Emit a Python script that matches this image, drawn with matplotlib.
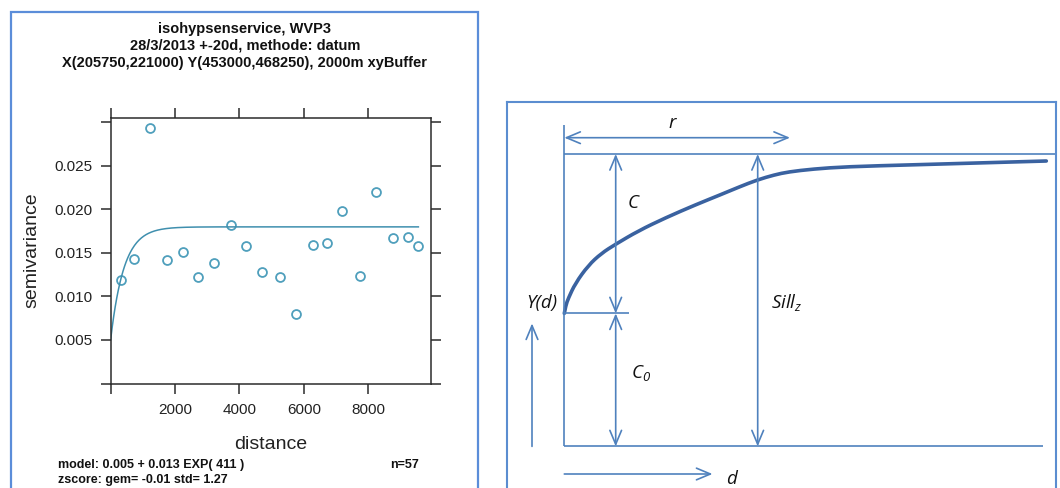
import numpy as np
import matplotlib
matplotlib.use("Agg")
import matplotlib.pyplot as plt
from matplotlib.patches import Rectangle, PathPatch
from matplotlib.path import Path

# ---------------- data: empirical variogram (left panel) ----------------
distance = [314, 727, 1224, 1742, 2239, 2724, 3211, 3730, 4196, 4692,
            5271, 5768, 6286, 6731, 7187, 7736, 8233, 8761, 9236, 9557]
semivariance = [0.01186, 0.01431, 0.0294, 0.01416, 0.01511, 0.01224, 0.01382,
                0.01818, 0.01584, 0.01278, 0.01228, 0.00802, 0.01595, 0.01619,
                0.01987, 0.01236, 0.02205, 0.01669, 0.01681, 0.01577]
# fitted model stated in the chart: 0.005 + 0.013 EXP(411)
model_nugget = 0.005
model_psill = 0.013
model_range = 411

x_ticks = [0, 2000, 4000, 6000, 8000]
x_ticklabels = ["", "2000", "4000", "6000", "8000"]
y_ticks = [0.0, 0.005, 0.010, 0.015, 0.020, 0.025, 0.030]
y_ticklabels = ["", "0.005", "0.010", "0.015", "0.020", "0.025", ""]

title_lines = ["isohypsenservice, WVP3",
               "28/3/2013 +-20d, methode: datum",
               "X(205750,221000) Y(453000,468250), 2000m xyBuffer"]
model_text = "model: 0.005 + 0.013 EXP( 411 )"
zscore_text = "zscore: gem= -0.01 std= 1.27"
n_text = "n=57"

# ---------------- data: schematic variogram (right panel) ----------------
curve_d = [0, 1.5, 4, 11, 24, 37, 51, 74, 101, 131, 157, 175, 193, 210, 224,
           249, 282, 349, 416, 482]
curve_g = [133, 141, 148, 163, 181, 193, 202, 215.5, 228.5, 241.5, 252, 259.5,
           266.5, 271.5, 274.5, 277.4, 279.7, 281.6, 283.5, 285.4]
nugget_level = 133
sill_level = 292.4
range_len = 225.7
c_arrow_d = 51.4
sill_arrow_d = 193.4

W, H = 1060, 488
fig = plt.figure(figsize=(W / 100, H / 100), dpi=100)

# ---------------- left panel ----------------
fig.add_artist(Rectangle((10.5 / W, -0.05), (478 - 10.5) / W, 1 - 12 / H + 0.05,
                         transform=fig.transFigure, fill=False,
                         ec="#5b8dd9", lw=1.6))

ax = fig.add_axes([110.6 / W, 1 - 383.5 / H, (430.7 - 110.6) / W, (383.5 - 117.5) / H])
frame_col = "#2b2b2b"
pt_col = "#4f9fbc"
line_col = "#3f8fae"

ax.plot(distance, semivariance, linestyle="none", marker="o", ms=6.4,
        mfc="none", mec=pt_col, mew=1.3)
d_line = np.linspace(0, max(distance), 400)
g_line = model_nugget + model_psill * (1 - np.exp(-d_line / model_range))
ax.plot(d_line, g_line, color=line_col, lw=1.1)

ax.set_xlim(0, 9940)
ax.set_ylim(0, 0.03057)
ax.set_xticks(x_ticks)
ax.set_xticklabels(x_ticklabels)
ax.set_yticks(y_ticks)
ax.set_yticklabels(y_ticklabels)
for lab in ax.get_xticklabels() + ax.get_yticklabels():
    lab.set_fontfamily("Liberation Sans")
    lab.set_fontsize(11)
    lab.set_color("#222222")
ax.tick_params(axis="both", direction="out", length=7, width=1.1, color=frame_col,
               top=True, right=True, labeltop=False, labelright=False)
ax.tick_params(axis="x", pad=7)
ax.tick_params(axis="y", pad=6)
for s in ax.spines.values():
    s.set_color(frame_col)
    s.set_linewidth(1.1)
ax.set_xlabel("distance", fontfamily="Liberation Sans", fontsize=14, labelpad=14, color="#222222")
ax.set_ylabel("semivariance", fontfamily="Liberation Sans", fontsize=14, labelpad=10, color="#222222")

for i, line in enumerate(title_lines):
    fig.text(245 / W, 1 - (28.5 + 17.3 * i) / H, line, ha="center", va="center",
             fontfamily="Liberation Sans", fontweight="bold", fontsize=10.5, color="#111111")
fig.text(58 / W, 1 - 465 / H, model_text, ha="left", va="center",
         fontfamily="Liberation Sans", fontweight="bold", fontsize=9, color="#111111")
fig.text(58 / W, 1 - 479.5 / H, zscore_text, ha="left", va="center",
         fontfamily="Liberation Sans", fontweight="bold", fontsize=9, color="#111111")
fig.text(390 / W, 1 - 465 / H, n_text, ha="left", va="center",
         fontfamily="Liberation Sans", fontweight="bold", fontsize=9, color="#111111")

# ---------------- right panel ----------------
ox, oy = 564.3, 446.4
x0, x1 = 506.7, 1056.0
y_top = 101.7
ax2 = fig.add_axes([x0 / W, 0, (x1 - x0) / W, 1 - y_top / H])
ax2.set_xlim(x0 - ox, x1 - ox)
ax2.set_ylim(oy - H, oy - y_top)
ax2.set_xticks([])
ax2.set_yticks([])
box_col = "#5b8dd0"
for k, s in ax2.spines.items():
    s.set_color(box_col)
    s.set_linewidth(1.5)
ax2.spines["bottom"].set_visible(False)
ax2.patch.set_alpha(0)

blue = "#4f81bd"
lw = 1.2

def seg(xa, ya, xb, yb):
    ax2.plot([xa, xb], [ya, yb], color=blue, lw=lw, solid_capstyle="butt")

def arrow(xa, ya, xb, yb, style):
    ax2.annotate("", xy=(xb, yb), xytext=(xa, ya),
                 arrowprops=dict(arrowstyle=style + ",head_length=1.0,head_width=0.42",
                                 color=blue, lw=lw, shrinkA=0, shrinkB=0,
                                 mutation_scale=10))

seg(0, 0, 0, 321.4)                      # left vertical
seg(0, 0, 478.7, 0)                      # base line
seg(0, sill_level, x1 - ox, sill_level)  # sill line
seg(0, nugget_level, 64.3, nugget_level) # nugget tick
arrow(0, 308.7, range_len, 308.7, "<->")                      # r
arrow(c_arrow_d, nugget_level, c_arrow_d, sill_level, "<->")  # C
arrow(c_arrow_d, 0, c_arrow_d, nugget_level, "<->")           # C0
arrow(sill_arrow_d, 0, sill_arrow_d, sill_level, "<->")       # Sill
arrow(-32.3, 0, -32.3, 123, "->")                             # gamma axis
arrow(0, -27.6, 148.2, -27.6, "->")                           # d axis

# smooth curve through the read points (quadratic B-spline path)
P = np.column_stack([curve_d, curve_g])
verts = [P[0]]
codes = [Path.MOVETO]
for i in range(1, len(P) - 2):
    verts += [P[i], (P[i] + P[i + 1]) / 2]
    codes += [Path.CURVE3, Path.CURVE3]
verts += [P[-2], P[-1]]
codes += [Path.CURVE3, Path.CURVE3]
ax2.add_patch(PathPatch(Path(verts, codes), fill=False, ec="#3a62a0", lw=2.6,
                        capstyle="round", joinstyle="round"))

plt.rcParams["mathtext.fontset"] = "custom"
plt.rcParams["mathtext.it"] = "Open Sans:italic"
plt.rcParams["mathtext.rm"] = "Open Sans:italic"
tf = dict(fontfamily="Open Sans", fontstyle="italic", fontsize=13.5, color="#111111")
ax2.text(107.4, 323.1, "r", ha="center", va="center", **tf)
ax2.text(69, 243.4, "C", ha="center", va="center", **tf)
ax2.text(67, 73.4, r"$C_0$", ha="left", va="center", **tf)
ax2.text(206.5, 143.7, r"$Sill_z$", ha="left", va="center", **tf)
ax2.text(-6.6, 143.7, "Υ(d)", ha="right", va="center", **tf)
ax2.text(167.7, -32.2, "d", ha="center", va="center", **tf)

fig.savefig("out.png", dpi=100)
